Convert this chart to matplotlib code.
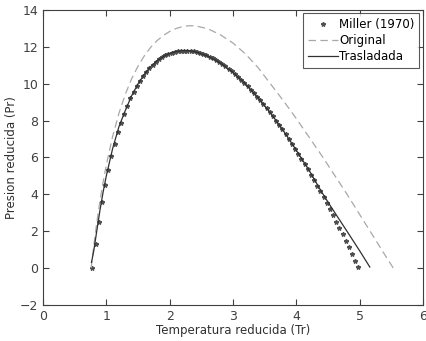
import numpy as np
import matplotlib
matplotlib.use('Agg')
import matplotlib.pyplot as plt

# Miller (1970) - puntos
tr_miller = [0.78, 0.83, 0.88, 0.93, 0.98, 1.03, 1.08, 1.13, 1.18, 1.23, 1.28, 1.33,
             1.38, 1.43, 1.48, 1.53, 1.58, 1.63, 1.68, 1.73, 1.78, 1.83, 1.88, 1.93,
             1.98, 2.03, 2.08, 2.13, 2.18, 2.23, 2.28, 2.33, 2.38, 2.43, 2.48, 2.53,
             2.58, 2.63, 2.68, 2.73, 2.78, 2.83, 2.88, 2.93, 2.98, 3.03, 3.08, 3.13,
             3.18, 3.23, 3.28, 3.33, 3.38, 3.43, 3.48, 3.53, 3.58, 3.63, 3.68, 3.73,
             3.78, 3.83, 3.88, 3.93, 3.98, 4.03, 4.08, 4.13, 4.18, 4.23, 4.28, 4.33,
             4.38, 4.43, 4.48, 4.53, 4.58, 4.63, 4.68, 4.73, 4.78, 4.83, 4.88, 4.93, 4.98]
pr_miller = [0.0, 1.31, 2.50, 3.56, 4.50, 5.33, 6.08, 6.75, 7.35, 7.89, 8.37, 8.81,
             9.20, 9.56, 9.88, 10.16, 10.42, 10.64, 10.85, 11.02, 11.18, 11.32, 11.43, 11.53,
             11.61, 11.68, 11.73, 11.76, 11.78, 11.79, 11.79, 11.77, 11.75, 11.71, 11.66, 11.60,
             11.53, 11.45, 11.37, 11.27, 11.17, 11.05, 10.93, 10.80, 10.66, 10.52, 10.37, 10.21,
             10.04, 9.86, 9.68, 9.49, 9.30, 9.10, 8.89, 8.68, 8.46, 8.23, 8.00, 7.76,
             7.52, 7.27, 7.01, 6.75, 6.48, 6.21, 5.93, 5.65, 5.36, 5.07, 4.77, 4.46,
             4.15, 3.83, 3.51, 3.19, 2.86, 2.52, 2.18, 1.83, 1.48, 1.13, 0.76, 0.40, 0.03]

# Curva original
tr_orig = [0.76, 0.80, 0.85, 0.90, 0.95, 1.00, 1.10, 1.20, 1.30, 1.40, 1.50, 1.60,
           1.70, 1.80, 1.90, 2.00, 2.10, 2.20, 2.30, 2.40, 2.60, 2.80, 3.00, 3.20,
           3.40, 3.60, 3.80, 4.00, 4.20, 4.40, 4.60, 4.80, 5.00, 5.20, 5.40, 5.53]
pr_orig = [0.0, 1.18, 2.50, 3.66, 4.69, 5.60, 7.15, 8.41, 9.43, 10.27, 10.95, 11.51,
           11.97, 12.33, 12.61, 12.83, 12.99, 13.09, 13.14, 13.14, 12.98, 12.65, 12.20, 11.60,
           10.85, 9.95, 9.05, 8.10, 7.10, 6.10, 5.05, 4.00, 2.90, 1.80, 0.70, 0.0]

# Curva trasladada
tr_tras = [0.765, 0.80, 0.85, 0.90, 0.95, 1.00, 1.10, 1.20, 1.30, 1.40, 1.50, 1.60,
           1.70, 1.80, 1.90, 2.00, 2.10, 2.20, 2.30, 2.40, 2.60, 2.80, 3.00, 3.20,
           3.40, 3.60, 3.80, 4.00, 4.20, 4.40, 4.50, 4.60, 4.80, 5.00, 5.16]
pr_tras = [0.3, 0.91, 2.04, 3.15, 4.14, 5.01, 6.49, 7.68, 8.55, 9.35, 9.99, 10.51,
           10.92, 11.24, 11.47, 11.64, 11.74, 11.79, 11.79, 11.73, 11.50, 11.12, 10.61, 9.97,
           9.22, 8.37, 7.42, 6.38, 5.30, 4.12, 3.57, 3.04, 1.99, 0.93, 0.05]

fig = plt.figure(figsize=(4.26, 3.41), dpi=100)
ax = fig.add_axes([0.101, 0.106, 0.892, 0.865])

ax.plot(tr_miller, pr_miller, linestyle='none', marker='*', markersize=3.2,
        color='#505050', label='Miller (1970)')
ax.plot(tr_orig, pr_orig, linestyle=(0, (6, 3.5)), linewidth=0.9, color='#a8a8a8', label='Original')
ax.plot(tr_tras, pr_tras, linestyle='-', linewidth=0.9, color='#303030', label='Trasladada')

ax.set_xlim(0, 6)
ax.set_ylim(-2, 14)
ax.set_xticks(range(0, 7))
ax.set_yticks(range(-2, 15, 2))
ax.tick_params(direction='in', top=True, right=True, length=4, labelsize=9,
               colors='#404040', width=0.8)
for s in ax.spines.values():
    s.set_color('#404040')
    s.set_linewidth(0.8)

ax.set_xlabel('Temperatura reducida (Tr)', fontsize=8.5, color='#303030', labelpad=1)
ax.set_ylabel('Presion reducida (Pr)', fontsize=8.5, color='#303030', labelpad=1)

leg = ax.legend(loc='upper right', fontsize=8.5, frameon=True, fancybox=False,
                edgecolor='#303030', handlelength=2.5, borderpad=0.4,
                labelspacing=0.25, handletextpad=0.15, borderaxespad=0.3)
leg.get_frame().set_linewidth(0.8)

fig.savefig('out.png', dpi=100)
